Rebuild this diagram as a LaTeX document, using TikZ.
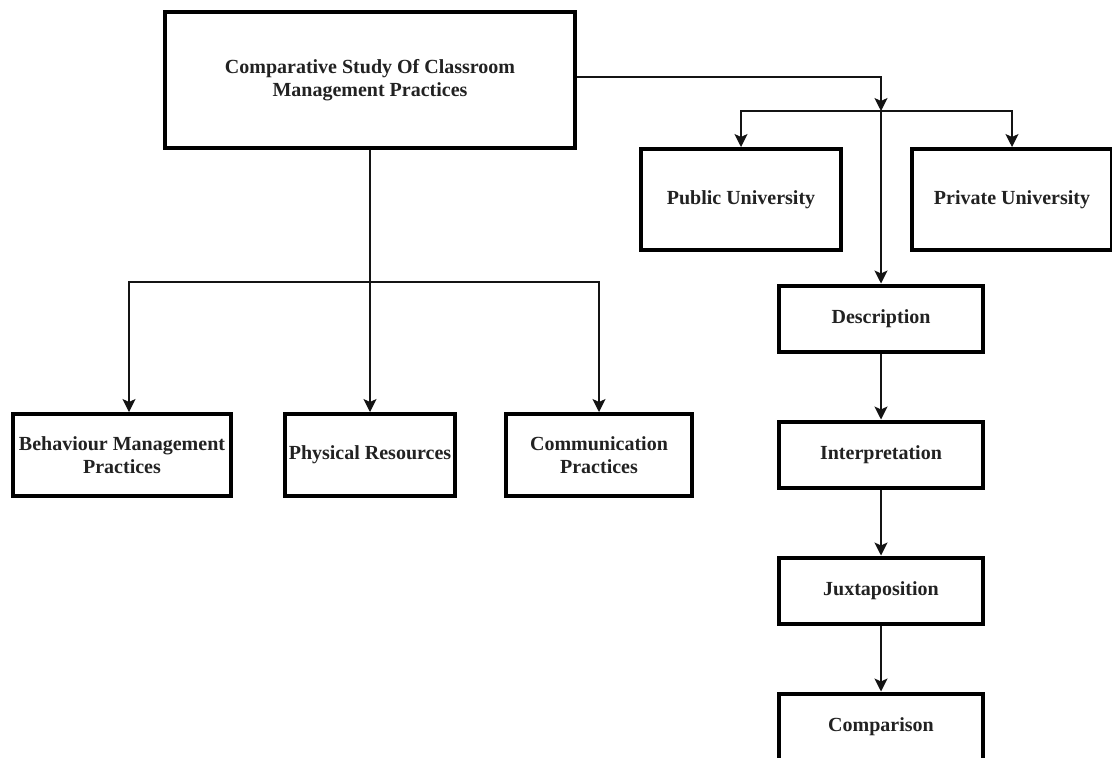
\documentclass[tikz,border=0pt]{standalone}
\usepackage{fontspec}
\setmainfont{Liberation Serif}
\usetikzlibrary{
  arrows.meta,
  positioning,
  calc
}
\definecolor{boxcolor}{RGB}{0, 0, 0}
\definecolor{labelcolor}{RGB}{34, 34, 34}
\definecolor{arrowcolor}{RGB}{20, 20, 20}
\tikzset{
blocktext/.style={
  align=center,
  font=\bfseries\fontsize{20}{23}\selectfont,
  text=labelcolor
},
block/.style={
  draw=boxcolor,
  line width=4pt,
  fill=white,
  inner sep=2pt,
  blocktext
},
titleblock/.style={
  block,
  minimum width=410pt,
  minimum height=136pt
},
uniblock/.style={
  block,
  minimum width=200pt,
  minimum height=101pt
},
areablock/.style={
  block,
  minimum height=82pt
},
stepblock/.style={
  block,
  minimum width=204pt,
  minimum height=66pt
},
arrow/.style={
  -{Stealth[length=13pt,width=13pt,inset=3pt]},
  line width=1.3pt,
  draw=arrowcolor
}
}

\begin{document}
\begin{tikzpicture}[x=1pt, y=-1pt]
  \useasboundingbox (0,0) rectangle (1112,758);

  \node[titleblock] (study) at (370,80) {Comparative Study Of Classroom\\Management Practices};

  \node[uniblock] (public) at (741,199.5) {Public University};
  \node[uniblock] (private) at (1012,199.5) {Private University};

  \node[areablock, minimum width=170pt] (physical) at (370,455) {Physical Resources};
  \node[areablock, minimum width=218pt] (behaviour) at (122,455) {Behaviour Management\\Practices};
  \node[areablock, minimum width=186pt] (communication) at (599,455) {Communication\\Practices};

  \node[stepblock] (description) at (881,318.5) {Description};
  \node[stepblock, below=66pt of description] (interpretation) {Interpretation};
  \node[stepblock, below=66pt of interpretation] (juxtaposition) {Juxtaposition};
  \node[stepblock, below=66pt of juxtaposition] (comparison) {Comparison};

  \coordinate (hub) at (881,111);
  \coordinate (split) at (370,282);

  \draw[arrow] ([yshift=3pt]study.east) -| (hub);
  \draw[arrow] (hub) -| (public.north);
  \draw[arrow] (hub) -| (private.north);
  \draw[arrow] (hub) -- (description.north);

  \draw[arrow] (study.south) -- (physical.north);
  \draw[arrow] (split) -| ([xshift=7pt]behaviour.north);
  \draw[arrow] (split) -| (communication.north);

  \draw[arrow] (description) -- (interpretation);
  \draw[arrow] (interpretation) -- (juxtaposition);
  \draw[arrow] (juxtaposition) -- (comparison);
\end{tikzpicture}
\end{document}
